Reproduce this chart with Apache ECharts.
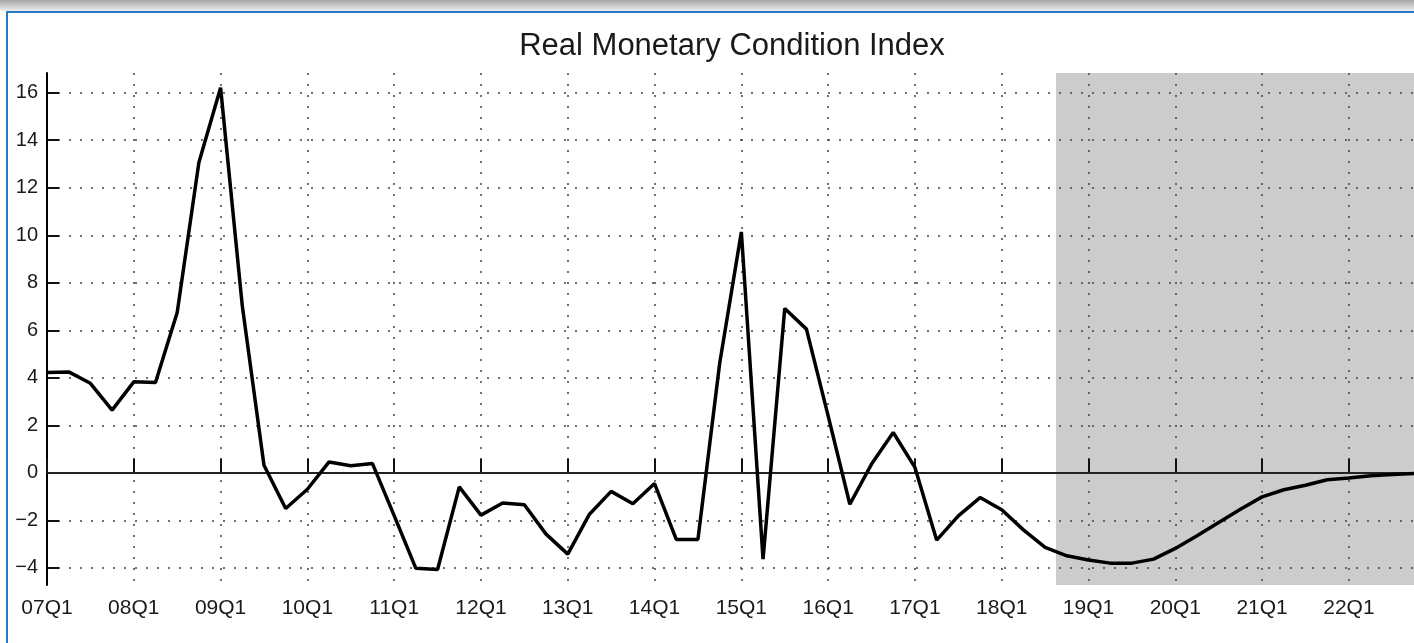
<!DOCTYPE html>
<html><head><meta charset="utf-8">
<script src="https://cdn.jsdelivr.net/npm/echarts@6/dist/echarts.min.js"></script>
<style>html,body{margin:0;padding:0;background:#fff}#c{width:1414px;height:643px}</style>
</head><body><div id="c"></div>
<script>
const categories = [
  '07Q1','07Q2','07Q3','07Q4','08Q1','08Q2','08Q3','08Q4',
  '09Q1','09Q2','09Q3','09Q4','10Q1','10Q2','10Q3','10Q4',
  '11Q1','11Q2','11Q3','11Q4','12Q1','12Q2','12Q3','12Q4',
  '13Q1','13Q2','13Q3','13Q4','14Q1','14Q2','14Q3','14Q4',
  '15Q1','15Q2','15Q3','15Q4','16Q1','16Q2','16Q3','16Q4',
  '17Q1','17Q2','17Q3','17Q4','18Q1','18Q2','18Q3','18Q4',
  '19Q1','19Q2','19Q3','19Q4','20Q1','20Q2','20Q3','20Q4',
  '21Q1','21Q2','21Q3','21Q4','22Q1','22Q2','22Q3','22Q4'
];
const rmci = [
  4.22, 4.25, 3.77, 2.64, 3.83, 3.80, 6.75, 13.06,
  16.21, 7.03, 0.32, -1.50, -0.69, 0.46, 0.30, 0.39,
  -1.80, -4.02, -4.07, -0.59, -1.78, -1.27, -1.34, -2.58,
  -3.42, -1.74, -0.78, -1.30, -0.45, -2.80, -2.80, 4.60,
  10.14, -3.63, 6.92, 6.05, 2.40, -1.32, 0.37, 1.70,
  0.23, -2.83, -1.81, -1.04, -1.55, -2.40, -3.14, -3.49,
  -3.67, -3.80, -3.80, -3.63, -3.18, -2.65, -2.09, -1.53,
  -1.01, -0.71, -0.52, -0.29, -0.22, -0.12, -0.07, -0.03
];
const yTickValues = [-4, -2, 0, 2, 4, 6, 8, 10, 12, 14, 16];
const xTickLabels = ['07Q1','08Q1','09Q1','10Q1','11Q1','12Q1','13Q1','14Q1',
                     '15Q1','16Q1','17Q1','18Q1','19Q1','20Q1','21Q1','22Q1'];
const forecastFrom = 46.5;       // shaded forecast region starts between 18Q3 and 18Q4
const yRange = [-4.72, 16.83];
const titleText = 'Real Monetary Condition Index';

const xTickIdx = xTickLabels.map(l => categories.indexOf(l));
const lastIdx = categories.length - 1;
const FONT = 'Liberation Sans, Arial, sans-serif';

const chart = echarts.init(document.getElementById('c'), null, {renderer: 'canvas'});
const option = {
  animation: false,
  backgroundColor: '#ffffff',
  graphic: [
    {type: 'rect', left: 0, top: 0, shape: {width: 1414, height: 11}, silent: true,
     style: {fill: new echarts.graphic.LinearGradient(0, 0, 0, 1, [
       {offset: 0, color: '#a4a4a4'}, {offset: 1, color: '#eeeeee'}])}},
    {type: 'rect', left: 6, top: 11, shape: {width: 1408, height: 2}, silent: true,
     style: {fill: '#2a78c8'}},
    {type: 'rect', left: 6, top: 11, shape: {width: 2, height: 632}, silent: true,
     style: {fill: '#2a78c8'}},
    {type: 'text', x: 732, y: 46, silent: true,
     style: {text: titleText, textAlign: 'center', textVerticalAlign: 'middle',
             font: 'normal 31px ' + FONT, fill: '#1a1a1a'}}
  ],
  grid: {left: 47, top: 73, right: -3, bottom: 58, containLabel: false},
  xAxis: {
    type: 'value', min: 0, max: lastIdx, z: 3,
    axisLine: {show: true, lineStyle: {color: '#000', width: 2}},
    axisTick: {show: true, customValues: xTickIdx, inside: true, length: 14,
               lineStyle: {color: '#111', width: 2}},
    axisLabel: {customValues: xTickIdx, formatter: v => categories[v], margin: 13,
                fontSize: 21, color: '#1a1a1a', fontFamily: FONT},
    splitLine: {show: true, lineStyle: {type: [2, 9], color: '#444', width: 1.5}}
  },
  yAxis: {
    type: 'value', min: yRange[0], max: yRange[1], z: 3,
    axisLine: {show: true, lineStyle: {color: '#000', width: 2}},
    axisTick: {show: true, customValues: yTickValues, inside: true, length: 12,
               lineStyle: {color: '#111', width: 2}},
    axisLabel: {customValues: yTickValues, formatter: v => String(v).replace('-', '\u2212'),
                margin: 9, fontSize: 20, color: '#1a1a1a', fontFamily: FONT},
    splitLine: {show: true, lineStyle: {type: [2, 9], color: '#444', width: 1.5}}
  },
  series: [
    {type: 'line', data: [], z: 1, silent: true,
     markArea: {silent: true, itemStyle: {color: '#cccccc'},
                data: [[{xAxis: forecastFrom}, {xAxis: lastIdx}]]}},
    {type: 'line', z: 5, data: rmci.map((v, i) => [i, v]), symbol: 'none',
     lineStyle: {color: '#000', width: 3.5}, silent: true,
     markLine: {silent: true, symbol: 'none', label: {show: false},
                lineStyle: {color: '#222', width: 2, type: 'solid'},
                data: [{yAxis: 0}]}}
  ]
};
chart.setOption(option);
</script></body></html>
